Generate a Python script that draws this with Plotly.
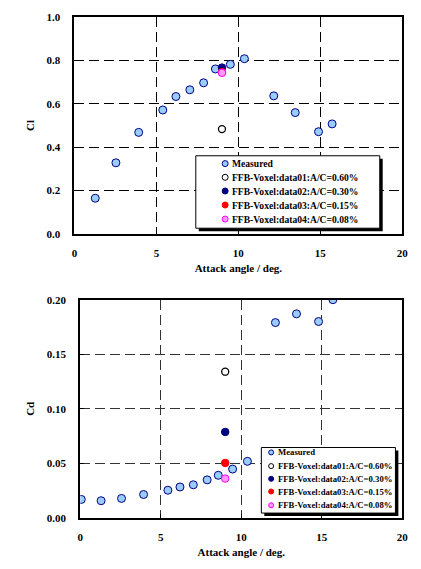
import plotly.graph_objects as go

# ---------------- data ----------------
cl_meas_x = [1.27, 2.53, 3.92, 5.39, 6.19, 7.04, 7.88, 8.60, 9.51, 10.37, 12.16, 13.47, 14.89, 15.72]
cl_meas_y = [0.165, 0.328, 0.468, 0.571, 0.633, 0.664, 0.696, 0.760, 0.781, 0.807, 0.636, 0.559, 0.471, 0.507]

cd_meas_x = [0.06, 1.29, 2.56, 3.93, 5.44, 6.19, 7.02, 7.88, 8.57, 9.46, 10.38, 12.12, 13.43, 14.80, 15.69]
cd_meas_y = [0.0170, 0.0158, 0.0179, 0.0215, 0.0254, 0.0284, 0.0304, 0.0349, 0.0391, 0.0448, 0.0519, 0.179, 0.187, 0.180, 0.200]

sim_x = [9.0]
cl_data01 = [0.483]
cl_data02 = [0.766]
cl_data03 = [0.745]
cl_data04 = [0.742]
cd_data01 = [0.134]
cd_data02 = [0.0788]
cd_data03 = [0.0504]
cd_data04 = [0.0361]

labels = ["Measured",
          "FFB-Voxel:data01:A/C=0.60%",
          "FFB-Voxel:data02:A/C=0.30%",
          "FFB-Voxel:data03:A/C=0.15%",
          "FFB-Voxel:data04:A/C=0.08%"]

x_ticks = [0, 5, 10, 15, 20]
cl_ticks = [0.0, 0.2, 0.4, 0.6, 0.8, 1.0]
cd_ticks = [0.00, 0.05, 0.10, 0.15, 0.20]

# ---------------- styles ----------------
W, H = 421, 569
FONT = "Liberation Serif"
styles = [
    dict(fill="#99CCFF", line="#000080", lw=1, size=8),
    dict(fill="#FFFFFF", line="#000000", lw=1.3, size=7),
    dict(fill="#000080", line="#000080", lw=1, size=7.5),
    dict(fill="#FF0000", line="#FF0000", lw=1, size=7.5),
    dict(fill="#FF99FF", line="#FF00FF", lw=1, size=7.5),
]

def px_x(p):
    return p / W

def px_y(p):
    return 1 - p / H

fig = go.Figure()

top_series = [(cl_meas_x, cl_meas_y), (sim_x, cl_data01), (sim_x, cl_data02), (sim_x, cl_data03), (sim_x, cl_data04)]
bot_series = [(cd_meas_x, cd_meas_y), (sim_x, cd_data01), (sim_x, cd_data02), (sim_x, cd_data03), (sim_x, cd_data04)]

for (xs, ys), lab, st in zip(top_series, labels, styles):
    fig.add_trace(go.Scatter(x=xs, y=ys, mode="markers", name=lab, showlegend=False,
                             marker=dict(size=st["size"], color=st["fill"],
                                         line=dict(color=st["line"], width=st["lw"])),
                             xaxis="x", yaxis="y"))
for (xs, ys), lab, st in zip(bot_series, labels, styles):
    fig.add_trace(go.Scatter(x=xs, y=ys, mode="markers", name=lab, showlegend=False,
                             marker=dict(size=st["size"], color=st["fill"],
                                         line=dict(color=st["line"], width=st["lw"])),
                             xaxis="x2", yaxis="y2"))

tickfont = dict(family=FONT, size=11, color="black")
titlefont = dict(family=FONT, size=11, color="black")

def xaxis_common(domain, anchor, gridcolor):
    return dict(domain=domain, anchor=anchor, range=[0, 20], tickvals=x_ticks,
                ticktext=[f"<b>{t}</b>" for t in x_ticks],
                showline=True, linewidth=2, linecolor="black", mirror=True,
                ticks="inside", ticklen=4, tickcolor="black",
                showgrid=True, gridcolor=gridcolor, gridwidth=1, griddash="10px,5px",
                zeroline=False, tickfont=tickfont, ticklabelstandoff=8,
                title=dict(text="<b>Attack angle / deg.</b>", font=titlefont, standoff=6))

def yaxis_common(domain, anchor, rng, ticks, fmt, title, gridcolor):
    return dict(domain=domain, anchor=anchor, range=rng, tickvals=ticks,
                ticktext=[f"<b>{t:{fmt}}</b>" for t in ticks],
                showline=True, linewidth=2, linecolor="black", mirror=True,
                ticks="inside", ticklen=4, tickcolor="black",
                showgrid=True, gridcolor=gridcolor, gridwidth=1, griddash="10px,5px",
                zeroline=False, tickfont=tickfont, ticklabelstandoff=10,
                title=dict(text=f"<b>{title}</b>", font=titlefont, standoff=10))

xa1 = xaxis_common([px_x(73), px_x(408)], "y", "black")
xa2 = xaxis_common([px_x(79), px_x(408)], "y2", "#333333")
ya1 = yaxis_common([px_y(233), px_y(11)], "x", [0, 1.0], cl_ticks, ".1f", "Cl", "black")
ya2 = yaxis_common([px_y(523), px_y(300)], "x2", [0, 0.2], cd_ticks, ".2f", "Cd", "#333333")

shapes = []
annotations = []

def add_legend(box, rows_y, sym_x, txt_x, fsize, sym_size):
    x0, y0, x1, y1 = box
    shapes.append(dict(type="rect", xref="paper", yref="paper", layer="above",
                       x0=px_x(x0 + 3), x1=px_x(x1 + 3), y0=px_y(y1 + 3), y1=px_y(y0 + 3),
                       fillcolor="black", line=dict(width=0)))
    shapes.append(dict(type="rect", xref="paper", yref="paper", layer="above",
                       x0=px_x(x0), x1=px_x(x1), y0=px_y(y1), y1=px_y(y0),
                       fillcolor="white", line=dict(color="black", width=1)))
    for ry, lab, st in zip(rows_y, labels, styles):
        r = sym_size / 2
        shapes.append(dict(type="circle", xref="paper", yref="paper", layer="above",
                           xsizemode="pixel", ysizemode="pixel",
                           xanchor=px_x(sym_x), yanchor=px_y(ry),
                           x0=-r, x1=r, y0=-r, y1=r,
                           fillcolor=st["fill"], line=dict(color=st["line"], width=1)))
        annotations.append(dict(xref="paper", yref="paper", x=px_x(txt_x), y=px_y(ry),
                                xanchor="left", yanchor="middle", showarrow=False,
                                text=f"<b>{lab}</b>",
                                font=dict(family=FONT, size=fsize, color="black")))

add_legend((197, 153, 385, 227), [161, 175, 189, 203.3, 217.7], 227, 232, 9.6, 6)
add_legend((264, 451, 401, 518), [456, 470, 483, 496, 510], 274, 279, 8.7, 5)

fig.update_layout(
    width=W, height=H,
    margin=dict(l=0, r=0, t=0, b=0),
    paper_bgcolor="white", plot_bgcolor="white",
    xaxis=xa1, yaxis=ya1, xaxis2=xa2, yaxis2=ya2,
    shapes=shapes, annotations=annotations,
    showlegend=False,
    hovermode=False,
)

fig.write_html("out.html", config={"displayModeBar": False, "staticPlot": True},
               post_script="document.body.style.margin='0';document.body.style.overflow='hidden';")
